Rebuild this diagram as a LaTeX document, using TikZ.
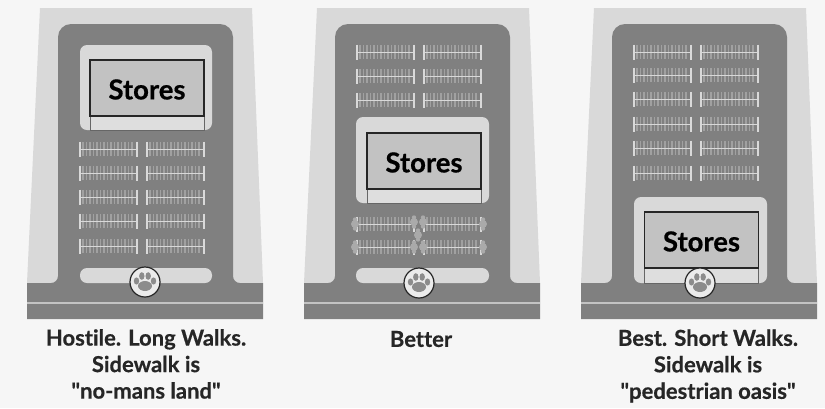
\documentclass[tikz,border=0pt]{standalone}
\usepackage{fontspec}
\newfontfamily\labelfont{Lato}[Ligatures=NoCommon, BoldFeatures={FakeBold=0.5}]

\definecolor{sidewalk}{gray}{0.85}
\definecolor{asphalt}{gray}{0.50}
\definecolor{shop}{gray}{0.76}
\definecolor{awning}{gray}{0.87}
\definecolor{stall}{gray}{0.63}
\definecolor{pagegray}{gray}{0.965}

\tikzset{
    storebox/.style={
        rectangle,
        draw=black!85,
        line width=1.4pt,
        fill=shop,
        minimum width=114pt,
        minimum height=56pt,
        inner sep=0pt,
        text height=23pt,
        font=\fontsize{27.5}{30}\labelfont\bfseries
    },
    awningbox/.style={
        rectangle,
        draw=black!60,
        line width=0.6pt,
        fill=awning,
        minimum width=114pt,
        minimum height=15pt,
        inner sep=0pt
    },
    pawbadge/.style={
        circle,
        draw=black!85,
        line width=1.2pt,
        fill=white!92!black,
        minimum size=30pt,
        inner sep=0pt
    },
    caption/.style={
        align=center,
        text=black!85,
        inner sep=0pt,
        font=\fontsize{22}{26.5}\labelfont\bfseries
    },
    stalltick/.style={
        draw=stall,
        line width=1.6pt
    },
    stallend/.style={
        draw=sidewalk,
        line width=2pt
    }
}

% one row of parking, left end and vertical middle
\newcommand{\stallrow}[2]{
    \foreach \tickx in {3,6.5,...,55}
        \draw[stalltick] (#1+\tickx,#2-7) -- (#1+\tickx,#2+7);
    \draw[sidewalk, line width=1pt] (#1,#2) -- (#1+57,#2);
    \draw[stallend] (#1,#2-7.5) -- (#1,#2+7.5);
    \draw[stallend] (#1+57,#2-7.5) -- (#1+57,#2+7.5);
}

% both columns of parking at one height
\newcommand{\stallpair}[1]{
    \stallrow{80}{#1}
    \stallrow{147}{#1}
}

% ground, parking lot and road
\newcommand{\lotground}{
    \fill[sidewalk] (40,8) -- (252,8) -- (263,283) -- (27,283) -- cycle;
    \fill[asphalt] (27,283) [rounded corners=7pt] -- (58,283) [rounded corners=13pt] -- (58,24)
        -- (233,24) [rounded corners=7pt] -- (233,283) [sharp corners] -- (263,283)
        -- (263,319) -- (27,319) -- cycle;
    \draw[sidewalk!90!black, line width=1.6pt] (27,303) -- (263,303);
}

% paw mark, centre given
\newcommand{\pawmark}[2]{
    \fill[black!45] (#1,#2+4) ellipse [x radius=7pt, y radius=5pt];
    \fill[black!45] (#1-8.5,#2-1) ellipse [x radius=2.7pt, y radius=3.6pt];
    \fill[black!45] (#1-3.2,#2-6) ellipse [x radius=2.7pt, y radius=3.8pt];
    \fill[black!45] (#1+3.2,#2-6) ellipse [x radius=2.7pt, y radius=3.8pt];
    \fill[black!45] (#1+8.5,#2-1) ellipse [x radius=2.7pt, y radius=3.6pt];
}

% small tree beside the stalls
\newcommand{\treeblob}[2]{
    \fill[stall!90!white] (#1,#2) circle (4pt);
    \fill[stall!90!white] (#1,#2-4.5) circle (2.2pt);
    \fill[stall!90!white] (#1,#2+4.5) circle (2.2pt);
}

\begin{document}
\begin{tikzpicture}[x=1pt, y=-1pt]

    \useasboundingbox (0,0) rectangle (825,408);
    \fill[pagegray] (0,0) rectangle (825,408);

    % hostile
    \begin{scope}
        \lotground
        \fill[sidewalk, rounded corners=7pt] (80,45) rectangle (212,130);
        \fill[sidewalk, rounded corners=7pt] (80,268) rectangle (212,283);
        \node[awningbox] (awningA) at (147,123) {};
        \node[storebox] (storesA) at (147,88) {Stores};
        \stallpair{149}
        \stallpair{173}
        \stallpair{197}
        \stallpair{221}
        \stallpair{246}
        \node[pawbadge] (pawA) at (145,282) {};
        \pawmark{145}{282}
    \end{scope}

    % better
    \begin{scope}[xshift=277pt]
        \lotground
        \fill[sidewalk, rounded corners=7pt] (79,117) rectangle (212,203);
        \fill[sidewalk, rounded corners=7pt] (79,268) rectangle (212,283);
        \node[awningbox] (awningB) at (147,196) {};
        \node[storebox] (storesB) at (147,161) {Stores};
        \stallpair{52}
        \stallpair{76}
        \stallpair{100}
        \stallrow{80}{224}
        \stallrow{147}{224}
        \stallrow{80}{247}
        \stallrow{147}{247}
        \treeblob{78}{224}
        \treeblob{206}{224}
        \treeblob{78}{247}
        \treeblob{206}{247}
        \treeblob{137}{222}
        \treeblob{146}{222}
        \treeblob{141}{235}
        \treeblob{137}{247}
        \treeblob{146}{247}
        \node[pawbadge] (pawB) at (142,283) {};
        \pawmark{142}{283}
    \end{scope}

    % best
    \begin{scope}[xshift=554pt]
        \lotground
        \fill[sidewalk, rounded corners=7pt] (80,197) rectangle (213,283);
        \node[awningbox] (awningC) at (147.5,276) {};
        \node[storebox] (storesC) at (147.5,240) {Stores};
        \stallpair{52}
        \stallpair{75}
        \stallpair{99}
        \stallpair{124}
        \stallpair{148}
        \stallpair{173}
        \node[pawbadge] (pawC) at (146,283) {};
        \pawmark{146}{283}
    \end{scope}

    \node[caption] (captionA) at (146,364) {Hostile. Long Walks.\\Sidewalk is\\"no-mans land"};
    \node[caption] (captionB) at (421,339) {Better};
    \node[caption] (captionC) at (708,366) {Best. Short Walks.\\Sidewalk is\\"pedestrian oasis"};

\end{tikzpicture}
\end{document}
